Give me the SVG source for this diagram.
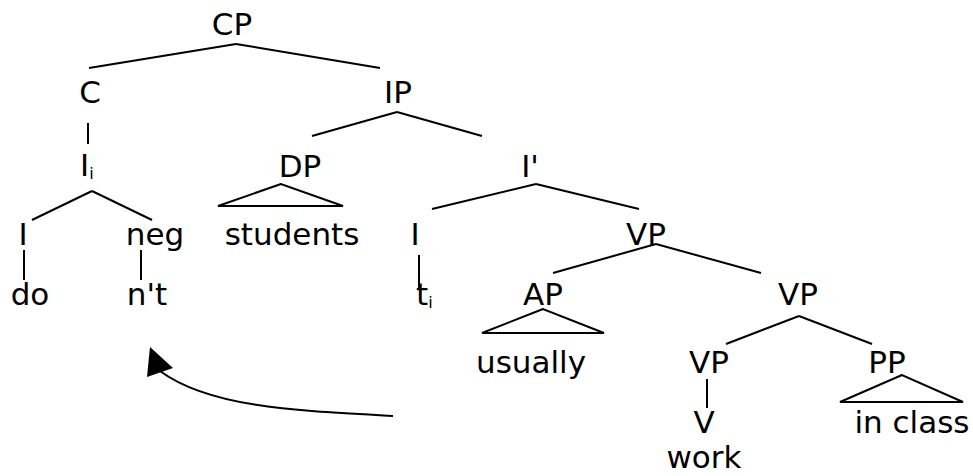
<svg xmlns="http://www.w3.org/2000/svg" width="973" height="476" viewBox="0 0 973 476">
<defs>
<style>
text{font-family:"DejaVu Sans","Liberation Sans",sans-serif;font-size:31px;fill:#000}
.m{text-anchor:middle}
.sub{font-size:16px}
line,polyline,path{stroke:#000;stroke-width:2;fill:none}
.tri{stroke:#000;stroke-width:2;fill:none}
.head{fill:#000;stroke:none}
</style>
</defs>
<rect width="973" height="476" fill="#fff"/>
<g id="connectors">
<line x1="236" y1="44" x2="89" y2="68"/>
<line x1="236" y1="44" x2="380" y2="68"/>
<line x1="88" y1="123" x2="88" y2="144"/>
<line x1="397" y1="112" x2="312" y2="136"/>
<line x1="397" y1="112" x2="482" y2="136"/>
<line x1="92" y1="191" x2="32" y2="220"/>
<line x1="92" y1="191" x2="152" y2="220"/>
<line x1="24" y1="250" x2="24" y2="280"/>
<line x1="141" y1="250" x2="141" y2="280"/>
<line x1="536" y1="184" x2="432" y2="209"/>
<line x1="536" y1="184" x2="639" y2="209"/>
<line x1="419" y1="255" x2="419" y2="290"/>
<line x1="656" y1="244" x2="553" y2="273"/>
<line x1="656" y1="244" x2="761" y2="273"/>
<line x1="799" y1="316" x2="726" y2="344"/>
<line x1="799" y1="316" x2="872" y2="344"/>
<line x1="707" y1="379" x2="707" y2="408"/>
<polygon class="tri" points="281,184 218,206 343,206"/>
<polygon class="tri" points="543,309 482,333 604,333"/>
<polygon class="tri" points="902,375 840,402 963,402"/>
<path d="M393,416 C300,411 210,408 160,371"/>
<polygon class="head" points="150,347 173,368 147,377"/>
</g>
<g id="CP"><text class="m" x="232" y="35">CP</text></g>
<g id="C"><text class="m" x="90" y="103">C</text></g>
<g id="IP"><text class="m" x="398" y="103">IP</text></g>
<g id="Ii"><text x="80" y="176">I<tspan class="sub" dy="3">i</tspan></text></g>
<g id="DP"><text class="m" x="300" y="177">DP</text></g>
<g id="Ibar"><text class="m" x="530" y="177">I'</text></g>
<g id="I1"><text class="m" x="23" y="245">I</text></g>
<g id="neg"><text class="m" x="155" y="245">neg</text></g>
<g id="students"><text class="m" x="292" y="245">students</text></g>
<g id="I2"><text class="m" x="415" y="245">I</text></g>
<g id="VP1"><text class="m" x="646" y="245">VP</text></g>
<g id="do"><text class="m" x="30" y="305">do</text></g>
<g id="nt"><text class="m" x="147" y="305">n't</text></g>
<g id="ti"><text x="416" y="305">t<tspan class="sub" dy="3">i</tspan></text></g>
<g id="AP"><text class="m" x="543" y="305">AP</text></g>
<g id="VP2"><text class="m" x="798" y="305">VP</text></g>
<g id="usually"><text class="m" x="531" y="373">usually</text></g>
<g id="VP3"><text class="m" x="709" y="373">VP</text></g>
<g id="PP"><text class="m" x="887" y="373">PP</text></g>
<g id="V"><text class="m" x="704" y="433">V</text></g>
<g id="inclass"><text class="m" x="912" y="433">in class</text></g>
<g id="work"><text class="m" x="704" y="468">work</text></g>
</svg>
